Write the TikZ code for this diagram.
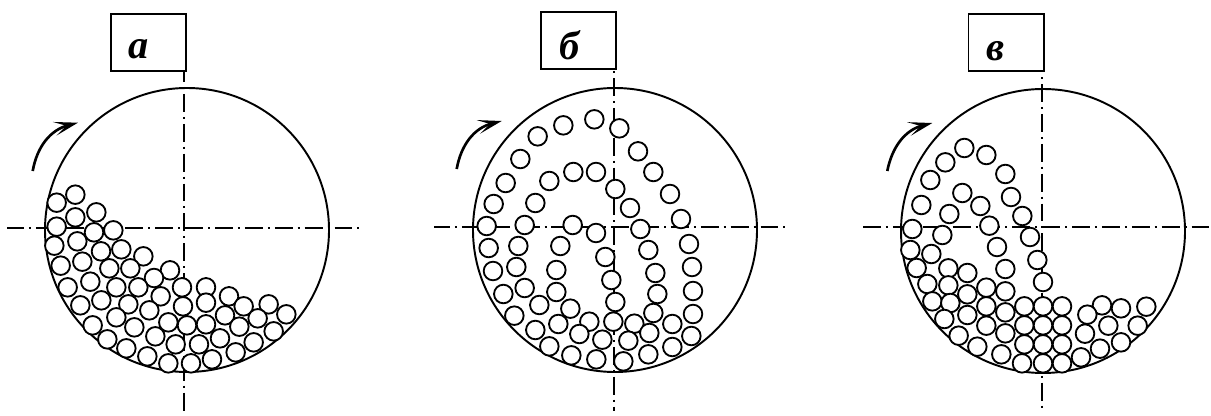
\documentclass[tikz,border=0pt]{standalone}
\usepackage{fontspec}
\setmainfont{Liberation Serif}
\usetikzlibrary{arrows.meta}
\tikzset{
  drum/.style={draw,line width=1.1pt},
  ball/.style={draw,fill=white,line width=1.05pt},
  axis/.style={line width=1.1pt,dash pattern=on 10.2pt off 2.84pt on 1.13pt off 2.83pt},
  tagbox/.style={draw,line width=1.1pt,fill=white,minimum width=1.51cm,minimum height=1.14cm,inner sep=0pt},
  tagtext/.style={font=\fontsize{23}{23}\selectfont\bfseries\itshape,inner sep=0pt},
  turn/.style={line width=1.5pt,-{Stealth[length=4.8mm,width=2.8mm,inset=2.4mm]}}
}
\begin{document}
\begin{tikzpicture}[x=0.02cm,y=-0.02cm]
\useasboundingbox (0,0) rectangle (1211,416);

\draw[drum] (187,230) circle (142);
\coordinate (aw) at (7,228); \coordinate (ae) at (362,228);
\coordinate (an) at (184.2,70); \coordinate (as) at (184.2,411);
\draw[axis,dash phase=0.57pt] (aw) -- (ae);
\draw[axis,dash phase=3.4pt] (an) -- (as);
\coordinate (at0) at (32.7,171); \coordinate (at1) at (78,122.7);
\draw[turn] (at0) .. controls (37,147) and (50,130) .. (at1);
\foreach \x/\y in {226/74,170/98,289/127,226/142,170/170,340/181,282/187,232/214,163/227,303/244,364/238,430/259,247/275,182/287,328/295,391/295,510/301,462/324,271/335,203/352,349/352,415/352,546/352,618/352,482/379,687/379,304/391,385/403,241/406,618/398,549/409,731/409,806/403,448/421,675/436,859/433,349/442,773/445,505/457,561/466,618/463,278/466,403/472,718/470,821/484,466/499,322/508,660/505,527/523,597/523,761/517,379/535,707/547,442/559,636/568,505/580,573/580}
  \draw[ball] ({\x/3},{170+\y/3}) circle (9.3);
\node[tagbox,anchor=north west] (taga) at (110,13) {};
\node[tagtext] (texta) at (139,49) {а};

\draw[drum] (615,230) circle (142);
\coordinate (bw) at (434,227); \coordinate (be) at (787,227);
\coordinate (bn) at (613.7,71); \coordinate (bs) at (613.7,411);
\draw[axis,dash phase=1.13pt] (bw) -- (be);
\draw[axis,dash phase=13pt] (bn) -- (bs);
\coordinate (bt0) at (456.7,169); \coordinate (bt1) at (501.7,121);
\draw[turn] (bt0) .. controls (461,145) and (474,128) .. (bt1);
\foreach \x/\y in {493/88,568/115,400/106,323/139,624/184,271/207,430/246,498/246,670/246,358/273,227/279,556/297,720/312,316/339,191/342,600/354,753/387,170/408,284/405,428/405,631/417,498/429,777/462,176/474,265/468,391/468,655/480,526/501,786/531,259/531,189/543,379/540,676/549,544/570,789/603,284/594,379/606,220/612,682/612,556/636,328/645,421/656,670/669,789/672,253/677,385/702,478/695,550/695,613/701,727/702,316/720,448/732,658/729,784/738,517/749,595/752,358/769,727/771,655/793,424/796,499/808,580/814}
  \draw[ball] ({430+\x/3},{90+\y/3}) circle (9.3);
\node[tagbox,anchor=north west] (tagb) at (540,11) {};
\node[tagtext] (textb) at (570,45) {б};

\draw[drum] (1043,231) circle (142);
\coordinate (cw) at (863,227); \coordinate (ce) at (1210,227);
\coordinate (cn) at (1041.7,77); \coordinate (cs) at (1041.7,411);
\draw[axis] (cw) -- (ce);
\draw[axis,dash phase=13pt] (cn) -- (cs);
\coordinate (ct0) at (887.3,171); \coordinate (ct1) at (932.3,123);
\draw[turn] (ct0) .. controls (892,147) and (905,130) .. (ct1);
\foreach \x/\y in {313/84,379/105,256/127,436/162,211/180,307/219,453/231,184/255,361/258,268/282,487/288,388/317,157/327,247/345,510/351,411/381,151/390,214/402,532/420,265/445,170/444,322/459,436/447,549/486,202/492,265/496,379/503,436/514,322/523,217/544,271/549,379/559,493/559,549/559,606/559,436/577,726/556,783/565,859/560,682/584,322/585,253/597,379/617,493/616,549/616,606/616,745/617,833/617,436/640,675/641,296/647,493/673,549/673,606/673,783/667,352/680,720/686,424/703,663/712,486/730,549/730,606/730}
  \draw[ball] ({860+\x/3},{120+\y/3}) circle (9.3);
\node[tagbox,anchor=north west] (tagc) at (967.5,13) {};
\node[tagtext] (textc) at (996,51) {в};
\end{tikzpicture}
\end{document}
